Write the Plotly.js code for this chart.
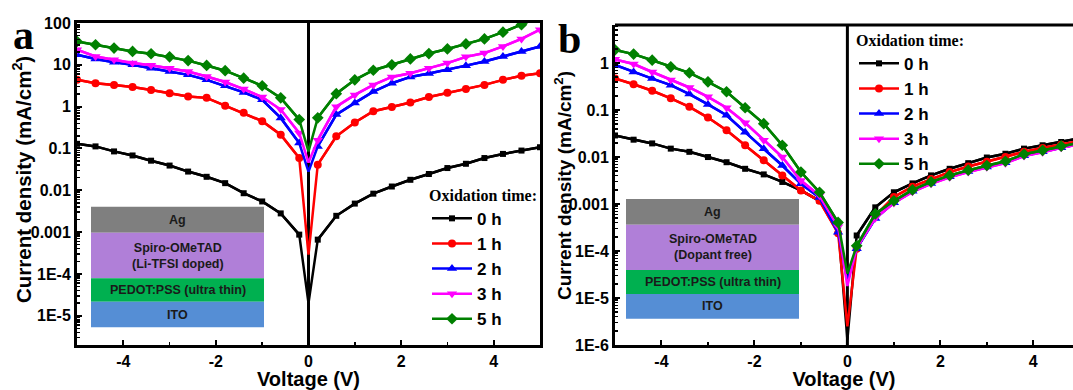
<!DOCTYPE html>
<html>
<head>
<meta charset="utf-8">
<script src="https://cdn.plot.ly/plotly-3.0.1.min.js"></script>
<style>html,body{margin:0;padding:0;background:#fff;overflow:hidden}#chart{width:1073px;height:390px}</style>
</head>
<body>
<div id="chart"></div>
<script>
// Voltage grid (V)
const voltage = [-5,-4.6,-4.2,-3.8,-3.4,-3.0,-2.6,-2.2,-1.8,-1.4,-1.0,-0.6,-0.2,0,0.2,0.6,1.0,1.4,1.8,2.2,2.6,3.0,3.4,3.8,4.2,4.6,5.0];
const seriesNames = ["0 h","1 h","2 h","3 h","5 h"];

// Panel a: Li-TFSI doped Spiro-OMeTAD, current density (mA/cm2)
const a_0h = [0.129,0.112,0.085,0.068,0.051,0.039,0.028,0.021,0.0148,0.0085,0.0054,0.0028,8.7e-4,2.0e-5,6.6e-4,0.00245,0.0048,0.0083,0.0123,0.0178,0.0245,0.034,0.043,0.059,0.074,0.089,0.107];
const a_1h = [4.37,3.63,3.31,2.95,2.51,2.09,1.74,1.62,1.05,0.71,0.45,0.214,0.059,2.9e-4,0.041,0.195,0.417,0.776,0.977,1.26,1.70,2.14,2.63,3.31,4.37,5.50,6.31];
const a_2h = [17.4,13.8,11.5,10.0,8.3,6.9,5.75,4.37,3.16,2.19,1.46,0.537,0.135,0.028,0.112,0.646,1.23,2.29,3.63,5.13,6.17,7.59,9.55,12.0,15.8,20.9,27.5];
const a_3h = [22.9,15.8,13.2,11.0,9.8,8.3,6.9,5.25,3.89,2.63,1.70,0.85,0.234,0.046,0.158,1.0,1.91,3.31,5.13,6.31,8.32,11.0,15.5,19.1,27.5,41.7,69.2];
const a_5h = [36.3,30.2,25.1,20.9,18.4,15.5,12.6,9.66,7.24,4.79,3.16,1.62,0.49,0.085,0.54,2.04,4.37,7.41,10.0,13.8,18.6,24.0,31.6,41.7,60.3,91.2,141];

// Panel b: dopant-free Spiro-OMeTAD
const b_0h = [0.0288,0.0234,0.0195,0.0151,0.0129,0.0100,0.00776,0.00562,0.00427,0.00295,0.00195,0.00117,3.47e-4,1.3e-6,2.14e-4,8.5e-4,0.00178,0.00275,0.00407,0.00562,0.00741,0.00977,0.01175,0.0151,0.0178,0.0209,0.0251];
const b_1h = [0.468,0.355,0.257,0.178,0.117,0.0692,0.0372,0.0178,0.00851,0.00407,0.00195,0.00117,2.4e-4,2.5e-6,1.12e-4,5.6e-4,0.00141,0.00234,0.00339,0.00479,0.00631,0.00794,0.0100,0.0129,0.0155,0.0182,0.0219];
const b_2h = [0.912,0.646,0.468,0.339,0.219,0.132,0.0776,0.0339,0.0151,0.0066,0.00269,0.00138,2.5e-4,2.3e-5,1.12e-4,4.9e-4,0.00107,0.00186,0.00275,0.0038,0.0049,0.00617,0.00759,0.0107,0.0129,0.0158,0.0191];
const b_3h = [1.20,0.955,0.646,0.437,0.302,0.191,0.112,0.0537,0.0229,0.0100,0.00316,0.00151,3.3e-4,1.8e-5,1.17e-4,5.0e-4,0.00105,0.00182,0.00269,0.00372,0.00479,0.00603,0.00741,0.0105,0.0126,0.0158,0.0186];
const b_5h = [1.91,1.55,1.15,0.832,0.617,0.398,0.245,0.112,0.0513,0.0178,0.00479,0.00178,4.07e-4,3.3e-5,1.29e-4,6.17e-4,0.00117,0.002,0.00295,0.00407,0.00525,0.00661,0.00813,0.0115,0.0138,0.017,0.0204];

const xTickVals = [-4,-2,0,2,4];
const xTickText = ["-4","-2","0","2","4"];
const aYTickVals = [1e-5,1e-4,1e-3,0.01,0.1,1,10,100];
const aYTickText = ["1E-5","1E-4","0.001","0.01","0.1","1","10","100"];
const bYTickVals = [1e-6,1e-5,1e-4,1e-3,0.01,0.1,1];
const bYTickText = ["1E-6","1E-5","1E-4","0.001","0.01","0.1","1"];

const colors = ["#000000","#ff0000","#0000ff","#ff00ff","#008000"];
const symbols = ["square","circle","triangle-up","triangle-down","diamond"];
const msizes = [6,8,9,9,9];

function makeTraces(ys, xa, ya, legendId) {
  const out = [];
  ys.forEach((y, i) => {
    out.push({x: voltage, y: y, xaxis: xa, yaxis: ya, mode: 'lines', showlegend: false,
      line: {color: colors[i], width: 2.5}, hoverinfo: 'skip'});
    out.push({x: voltage, y: y.map((v, k) => voltage[k] === 0 ? null : v), xaxis: xa, yaxis: ya,
      mode: 'lines+markers', connectgaps: false, name: seriesNames[i], legend: legendId,
      line: {color: colors[i], width: 2.5},
      marker: {symbol: symbols[i], size: msizes[i], color: colors[i], line: {width: 0}}});
  });
  return out;
}

const traces = [].concat(
  makeTraces([a_0h,a_1h,a_2h,a_3h,a_5h], 'x', 'y', 'legend'),
  makeTraces([b_0h,b_1h,b_2h,b_3h,b_5h], 'x2', 'y2', 'legend2')
);

function minorLog(lo, hi) {
  const r = [];
  for (let e = lo; e <= hi; e++) for (let m = 2; m <= 9; m++) r.push(m * Math.pow(10, e));
  return r;
}

const W = 1073, H = 390;
const px = v => v / W, py = v => 1 - v / H;
const SANS = 'Liberation Sans, Arial, sans-serif';
const SERIF = 'Liberation Serif, Times New Roman, serif';
const tickFont = {family: SANS, size: 16, color: '#000', weight: 'bold'};
const titleFont = {family: SANS, size: 20, color: '#000', weight: 'bold'};

function xAxis(domain, range, mirror) {
  return {domain: domain, range: range, tickmode: 'array', tickvals: xTickVals, ticktext: xTickText, ticks: 'inside', ticklen: 5, tickwidth: 2,
    tickcolor: '#000', showline: true, linewidth: 3, linecolor: '#000', mirror: mirror, showgrid: false, zeroline: false,
    tickfont: tickFont, automargin: false,
    minor: {tickmode: 'array', tickvals: [-5,-3,-1,1,3,5], ticks: 'inside', ticklen: 3, tickwidth: 1.5, tickcolor: '#000', showgrid: false},
    title: {text: 'Voltage (V)', font: titleFont, standoff: 6}};
}
function yAxis(domain, range, tv, tt, mirror, anchor) {
  return {type: 'log', domain: domain, range: range, anchor: anchor, tickmode: 'array', tickvals: tv, ticktext: tt,
    ticks: 'inside', ticklen: 5, tickwidth: 2, tickcolor: '#000', showline: true, linewidth: 3, linecolor: '#000',
    mirror: mirror, showgrid: false, zeroline: false, tickfont: tickFont, automargin: false,
    minor: {tickmode: 'array', tickvals: minorLog(-7, 2), ticks: 'inside', ticklen: 2.5, tickwidth: 1.5, tickcolor: '#000', showgrid: false}};
}

const insetFont = {family: SANS, size: 12.5, color: '#1a1a1a', weight: 'bold'};
const layerColors = ['#7f7f7f', '#b07fd8', '#00b050', '#558ed5'];

function inset(x0, x1, ys, labels) {
  const shapes = [], anns = [];
  for (let i = 0; i < 4; i++) {
    shapes.push({type: 'rect', xref: 'paper', yref: 'paper', x0: px(x0), x1: px(x1), y0: py(ys[i+1]), y1: py(ys[i]),
      fillcolor: layerColors[i], line: {width: 0}, layer: 'above'});
    anns.push({xref: 'paper', yref: 'paper', x: px((x0 + x1) / 2), y: py((ys[i] + ys[i+1]) / 2), text: labels[i],
      showarrow: false, font: insetFont, xanchor: 'center', yanchor: 'middle'});
  }
  return {shapes, anns};
}

const insA = inset(91, 264, [206.7, 232.7, 278.3, 301.7, 327.3], ['Ag', 'Spiro-OMeTAD<br>(Li-TFSI doped)', 'PEDOT:PSS (ultra thin)', 'ITO']);
const insB = inset(626, 799, [199, 224.7, 270, 294, 318.7], ['Ag', 'Spiro-OMeTAD<br>(Dopant free)', 'PEDOT:PSS (ultra thin)', 'ITO']);

const legendCommon = {bgcolor: 'rgba(0,0,0,0)', borderwidth: 0, xanchor: 'left', yanchor: 'top',
  font: {family: SANS, size: 17, color: '#000', weight: 'bold'},
  title: {text: 'Oxidation time:', font: {family: SERIF, size: 16, color: '#000', weight: 'bold'}},
  tracegroupgap: 0, itemwidth: 40};

const yTitle = 'Current density (mA/cm<sup>2</sup>)';

const layout = {
  width: W, height: H, margin: {l: 0, r: 0, t: 0, b: 0}, paper_bgcolor: '#fff', plot_bgcolor: 'rgba(0,0,0,0)',
  showlegend: true,
  xaxis: Object.assign(xAxis([px(77), px(540)], [-5, 5], true), {anchor: 'y'}),
  yaxis: yAxis([py(345), py(23)], [-5.7, 2], aYTickVals, aYTickText, true, 'x'),
  xaxis2: Object.assign(xAxis([px(615), 1], [-5, 4.854], false), {anchor: 'y2'}),
  yaxis2: yAxis([py(345), py(25)], [-6, 0.81], bYTickVals, bYTickText, false, 'x2'),
  legend: Object.assign({x: px(427), y: py(180)}, legendCommon),
  legend2: Object.assign({x: px(854), y: py(25)}, legendCommon),
  shapes: [
    {type: 'line', xref: 'x', yref: 'y domain', x0: 0, x1: 0, y0: 0, y1: 1, line: {color: '#000', width: 3}, layer: 'below'},
    {type: 'line', xref: 'x2', yref: 'y2 domain', x0: 0, x1: 0, y0: 0, y1: 1, line: {color: '#000', width: 3}, layer: 'below'},
    {type: 'line', xref: 'x2 domain', yref: 'y2 domain', x0: 0, x1: 1, y0: 1, y1: 1, line: {color: '#000', width: 3}, layer: 'above'}
  ].concat(insA.shapes, insB.shapes),
  annotations: [
    {xref: 'paper', yref: 'paper', x: px(11), y: py(35), text: 'a', showarrow: false, xanchor: 'left', yanchor: 'middle',
      font: {family: SERIF, size: 42, color: '#000', weight: 'bold'}},
    {xref: 'paper', yref: 'paper', x: px(556), y: py(39), text: 'b', showarrow: false, xanchor: 'left', yanchor: 'middle',
      font: {family: SERIF, size: 42, color: '#000', weight: 'bold'}},
    {xref: 'paper', yref: 'paper', x: px(22), y: py(180), text: yTitle, textangle: -90, showarrow: false,
      xanchor: 'center', yanchor: 'middle', font: {family: SANS, size: 20.5, color: '#000', weight: 'bold'}},
    {xref: 'paper', yref: 'paper', x: px(563), y: py(186), text: yTitle, textangle: -90, showarrow: false,
      xanchor: 'center', yanchor: 'middle', font: {family: SANS, size: 19, color: '#000', weight: 'bold'}}
  ].concat(insA.anns, insB.anns)
};

Plotly.newPlot('chart', traces, layout, {displayModeBar: false, staticPlot: true});
</script>
</body>
</html>
